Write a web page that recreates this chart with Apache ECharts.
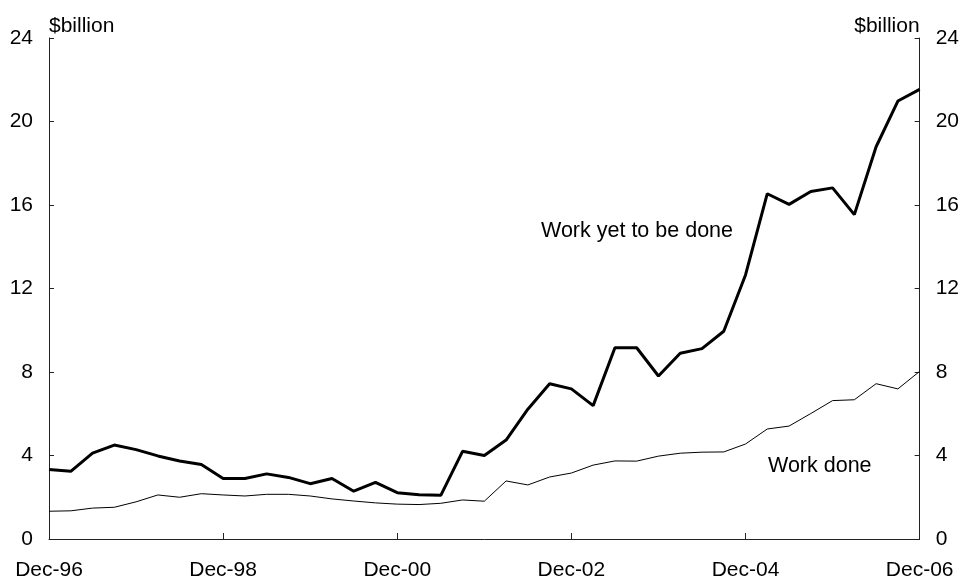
<!DOCTYPE html>
<html>
<head>
<meta charset="utf-8">
<script src="https://cdn.jsdelivr.net/npm/echarts@6/dist/echarts.min.js"></script>
<style>
html,body{margin:0;padding:0;background:#fff;}
#chart{width:962px;height:581px;}
</style>
</head>
<body>
<div id="chart"></div>
<script>
const quarters = [
  "Dec-96","Mar-97","Jun-97","Sep-97","Dec-97","Mar-98","Jun-98","Sep-98",
  "Dec-98","Mar-99","Jun-99","Sep-99","Dec-99","Mar-00","Jun-00","Sep-00",
  "Dec-00","Mar-01","Jun-01","Sep-01","Dec-01","Mar-02","Jun-02","Sep-02",
  "Dec-02","Mar-03","Jun-03","Sep-03","Dec-03","Mar-04","Jun-04","Sep-04",
  "Dec-04","Mar-05","Jun-05","Sep-05","Dec-05","Mar-06","Jun-06","Sep-06",
  "Dec-06"
];
const workYetToBeDone = [
  3.33, 3.24, 4.11, 4.50, 4.28, 3.98, 3.74, 3.57,
  2.90, 2.90, 3.12, 2.95, 2.65, 2.90, 2.29, 2.71,
  2.22, 2.12, 2.09, 4.20, 4.00, 4.74, 6.22, 7.44,
  7.19, 6.39, 9.16, 9.16, 7.81, 8.90, 9.12, 9.95,
  12.65, 16.54, 16.03, 16.65, 16.82, 15.54, 18.79, 20.98,
  21.54
];
const workDone = [
  1.33, 1.35, 1.48, 1.52, 1.78, 2.11, 2.00, 2.17,
  2.11, 2.06, 2.14, 2.14, 2.06, 1.92, 1.82, 1.73,
  1.67, 1.65, 1.71, 1.87, 1.81, 2.78, 2.59, 2.97,
  3.16, 3.54, 3.74, 3.73, 3.97, 4.11, 4.16, 4.17,
  4.55, 5.27, 5.41, 6.01, 6.63, 6.67, 7.44, 7.19,
  8.03
];
const yTicks = { min: 0, max: 24, interval: 4 };
const unitLabel = "$billion";
const seriesNames = ["Work yet to be done", "Work done"];

const FONT = "Liberation Sans, Arial, sans-serif";
const FS = 21;
const axisColor = "#222";

const chart = echarts.init(document.getElementById('chart'), null, {renderer: 'canvas'});

function yAxisCfg(pos) {
  return {
    type: 'value',
    position: pos,
    min: yTicks.min, max: yTicks.max, interval: yTicks.interval,
    name: unitLabel,
    nameLocation: 'end',
    nameGap: 12,
    nameTextStyle: {
      fontFamily: FONT, fontSize: FS, color: '#000',
      align: pos === 'left' ? 'left' : 'right',
      verticalAlign: 'middle'
    },
    axisLine: { show: true, lineStyle: { color: axisColor, width: 1 } },
    axisTick: { show: true, inside: true, length: 5, lineStyle: { color: axisColor } },
    axisLabel: { fontFamily: FONT, fontSize: FS, color: '#000', margin: 16 },
    splitLine: { show: false }
  };
}

chart.setOption({
  animation: false,
  backgroundColor: '#fff',
  grid: { left: 49, right: 42, top: 38, bottom: 39, containLabel: false },
  xAxis: {
    type: 'category',
    data: quarters,
    boundaryGap: false,
    axisLine: { show: true, lineStyle: { color: axisColor, width: 1 } },
    axisTick: {
      show: true, inside: true, length: 6,
      interval: (i) => i % 8 === 0,
      lineStyle: { color: axisColor }
    },
    axisLabel: {
      fontFamily: FONT, fontSize: FS, color: '#000', margin: 21,
      interval: (i) => i % 8 === 0,
      showMinLabel: true, showMaxLabel: true
    },
    splitLine: { show: false }
  },
  yAxis: [yAxisCfg('left'), yAxisCfg('right')],
  series: [
    {
      name: seriesNames[0], type: 'line', data: workYetToBeDone,
      yAxisIndex: 0, showSymbol: false, symbol: 'none',
      lineStyle: { color: '#000', width: 3 }
    },
    {
      name: seriesNames[1], type: 'line', data: workDone,
      yAxisIndex: 0, showSymbol: false, symbol: 'none',
      lineStyle: { color: '#000', width: 1 }
    }
  ],
  graphic: [
    {
      type: 'text', left: 541, top: 220,
      style: { text: seriesNames[0], font: '21.5px ' + FONT, fill: '#000' }
    },
    {
      type: 'text', left: 768, top: 455,
      style: { text: seriesNames[1], font: '21.5px ' + FONT, fill: '#000' }
    }
  ]
});
</script>
</body>
</html>
